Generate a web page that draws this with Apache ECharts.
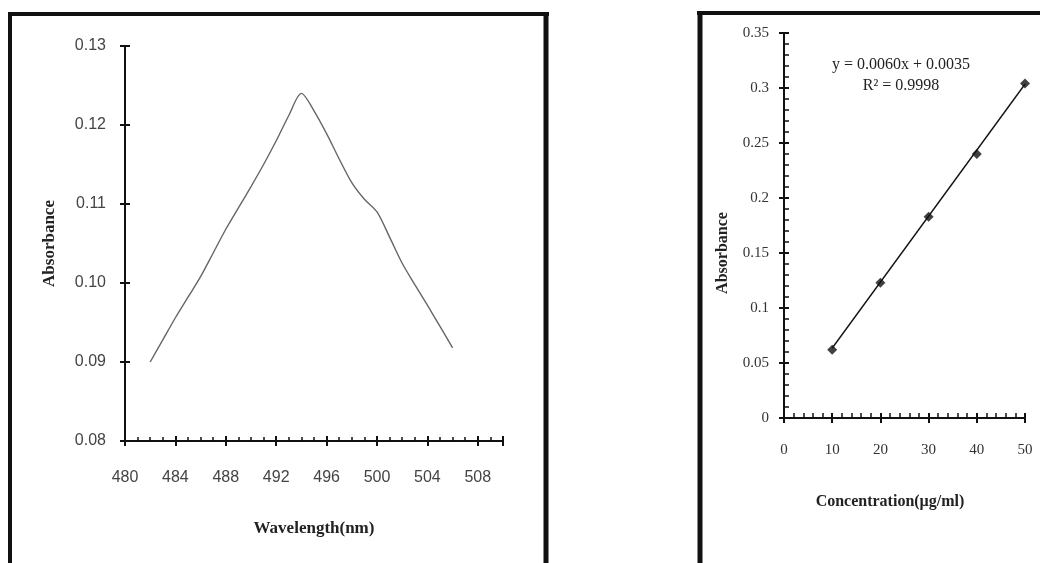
<!DOCTYPE html>
<html>
<head>
<meta charset="utf-8">
<script src="https://cdn.jsdelivr.net/npm/echarts@6/dist/echarts.min.js"></script>
<style>
  html, body { margin: 0; padding: 0; background: #fff; }
  #chart { width: 1040px; height: 563px; }
</style>
</head>
<body>
<div id="chart"></div>
<script>
// left panel: absorption spectrum
const wavelength = [482, 483, 484, 485, 486, 487, 488, 489, 490, 491, 492, 493, 494,
  495, 496, 497, 498, 499, 500, 501, 502, 503, 504, 505, 506];
const spectrum = [0.0900, 0.0928, 0.0956, 0.0982, 0.1008, 0.1038, 0.1068, 0.1095, 0.1122,
  0.1150, 0.1180, 0.1212, 0.1240, 0.1218, 0.1189, 0.1157, 0.1127, 0.1106, 0.1090, 0.1058,
  0.1025, 0.0998, 0.0972, 0.0945, 0.0918];

// right panel: calibration curve
const concentration = [10, 20, 30, 40, 50];
const absorbance = [0.062, 0.123, 0.183, 0.240, 0.304];
const trendX = [10, 50];
const trendY = [0.0635, 0.3035];
const equationText = 'y = 0.0060x + 0.0035';
const r2Text = 'R² = 0.9998';

const black = '#111';
const serif = '"Liberation Serif", "DejaVu Serif", serif';
const sans = '"Liberation Sans", "DejaVu Sans", sans-serif';

function zip(xs, ys) {
  return xs.map((x, i) => [x, ys[i]]);
}

// every axis is drawn twice: once with the line, labels and inside ticks,
// once more only with outside ticks, so that major ticks cross the line
function mainAxis(extra) {
  return Object.assign({
    type: 'value',
    splitLine: { show: false },
    axisLine: { show: true, lineStyle: { color: black, width: 2 } },
    axisTick: { show: true, inside: true, length: 5, lineStyle: { color: black, width: 2 } }
  }, extra);
}
function ghostAxis(extra) {
  return Object.assign({
    type: 'value',
    splitLine: { show: false },
    axisLine: { show: false },
    axisLabel: { show: false },
    axisTick: { show: true, inside: false, length: 5, lineStyle: { color: black, width: 2 } }
  }, extra);
}

const leftGrid = { left: 125, right: 537, top: 46, bottom: 122 };
const rightGrid = { left: 784, right: 15, top: 33, bottom: 145 };

const option = {
  backgroundColor: '#fff',
  animation: false,
  grid: [leftGrid, leftGrid, rightGrid, rightGrid],
  xAxis: [
    mainAxis({
      gridIndex: 0, min: 480, max: 510, interval: 4,
      minorTick: { show: true, splitNumber: 4, length: 4, lineStyle: { color: black, width: 1.5 } },
      axisLabel: { showMaxLabel: false, margin: 29, color: '#444', fontFamily: sans, fontSize: 16 },
      name: 'Wavelength(nm)', nameLocation: 'middle', nameGap: 79,
      nameTextStyle: { fontFamily: serif, fontWeight: 'bold', fontSize: 17, color: '#222' }
    }),
    ghostAxis({ gridIndex: 1, min: 480, max: 510, interval: 4 }),
    mainAxis({
      gridIndex: 2, min: 0, max: 50, interval: 10,
      minorTick: { show: true, splitNumber: 5, length: 5, lineStyle: { color: black, width: 1.5 } },
      axisLabel: { margin: 25, color: '#333', fontFamily: serif, fontSize: 15 }
    }),
    ghostAxis({ gridIndex: 3, min: 0, max: 50, interval: 10 })
  ],
  yAxis: [
    mainAxis({
      gridIndex: 0, min: 0.08, max: 0.13, interval: 0.01,
      axisLabel: { margin: 19, color: '#444', fontFamily: sans, fontSize: 16,
        formatter: v => v.toFixed(2) },
      name: 'Absorbance', nameLocation: 'middle', nameGap: 67,
      nameTextStyle: { fontFamily: serif, fontWeight: 'bold', fontSize: 17, color: '#222' }
    }),
    ghostAxis({ gridIndex: 1, min: 0.08, max: 0.13, interval: 0.01 }),
    mainAxis({
      gridIndex: 2, min: 0, max: 0.35, interval: 0.05,
      minorTick: { show: true, splitNumber: 5, length: 5, lineStyle: { color: black, width: 1.5 } },
      axisLabel: { margin: 15, color: '#333', fontFamily: serif, fontSize: 15 }
    }),
    ghostAxis({ gridIndex: 3, min: 0, max: 0.35, interval: 0.05 })
  ],
  series: [
    {
      name: 'spectrum',
      type: 'line',
      xAxisIndex: 0, yAxisIndex: 0,
      data: zip(wavelength, spectrum),
      smooth: 0.3,
      showSymbol: false,
      lineStyle: { color: '#666', width: 1.4 }
    },
    {
      name: 'trend',
      type: 'line',
      xAxisIndex: 2, yAxisIndex: 2,
      data: zip(trendX, trendY),
      showSymbol: false,
      lineStyle: { color: black, width: 1.6 },
      z: 2
    },
    {
      name: 'standards',
      type: 'scatter',
      xAxisIndex: 2, yAxisIndex: 2,
      data: zip(concentration, absorbance),
      symbol: 'diamond',
      symbolSize: 10,
      itemStyle: { color: black },
      z: 3
    }
  ],
  graphic: [
    // panel frames
    { type: 'line', shape: { x1: 8, y1: 14, x2: 549, y2: 14 }, style: { stroke: black, lineWidth: 4 } },
    { type: 'line', shape: { x1: 10, y1: 12, x2: 10, y2: 563 }, style: { stroke: black, lineWidth: 4 } },
    { type: 'line', shape: { x1: 546, y1: 12, x2: 546, y2: 563 }, style: { stroke: black, lineWidth: 5 } },
    { type: 'line', shape: { x1: 697, y1: 13, x2: 1040, y2: 13 }, style: { stroke: black, lineWidth: 4 } },
    { type: 'line', shape: { x1: 700, y1: 11, x2: 700, y2: 563 }, style: { stroke: black, lineWidth: 5 } },
    // right panel titles and fit equation
    {
      type: 'text', x: 723, y: 253, rotation: Math.PI / 2,
      style: { text: 'Absorbance', fontFamily: serif, fontWeight: 'bold', fontSize: 16,
        fill: '#222', align: 'center', verticalAlign: 'middle' }
    },
    {
      type: 'text', x: 890, y: 502,
      style: { text: 'Concentration(µg/ml)', fontFamily: serif, fontWeight: 'bold', fontSize: 16,
        fill: '#222', align: 'center', verticalAlign: 'middle' }
    },
    {
      type: 'text', x: 901, y: 65,
      style: { text: equationText, fontFamily: serif, fontSize: 16, fill: '#222',
        align: 'center', verticalAlign: 'middle' }
    },
    {
      type: 'text', x: 901, y: 86,
      style: { text: r2Text, fontFamily: serif, fontSize: 16, fill: '#222',
        align: 'center', verticalAlign: 'middle' }
    }
  ]
};

const myChart = echarts.init(document.getElementById('chart'));
myChart.setOption(option);
</script>
</body>
</html>
